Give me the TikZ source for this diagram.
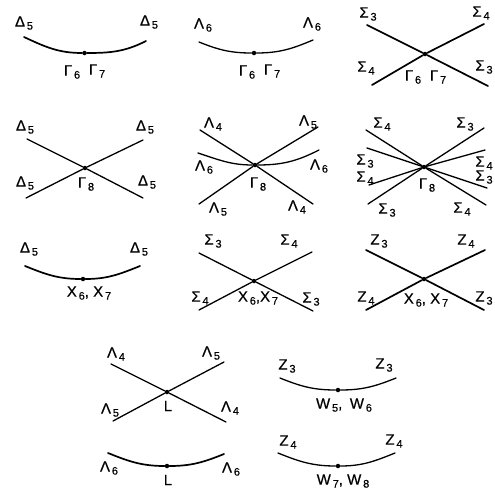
\documentclass[tikz,border=0pt]{standalone}
\usepackage{fontspec}
\setmainfont[FakeBold=0.5]{Liberation Sans}
\usetikzlibrary{positioning}
\newcommand{\bd}[2]{#1\raisebox{-3pt}{\fontsize{11}{12}\selectfont\,#2}}

\begin{document}
\begin{tikzpicture}[x=1pt,y=-1pt,font=\fontsize{15}{17}\selectfont,
  lab/.style={inner sep=0pt,anchor=center},
  pt/.style={circle,fill=black,inner sep=0pt,minimum size=4.5pt},
  ln/.style={line width=1.3pt,line cap=round},
  lnb/.style={line width=1.7pt,line cap=round}]
\useasboundingbox (0,0) rectangle (495,491);

% first row
\node[pt] (ga) at (84.5,53) {};
\coordinate (ga1) at (24,37);
\coordinate (ga2) at (146,41);
\draw[lnb] (ga1) to[out=-25,in=180] (ga) to[out=0,in=207] (ga2);
\node[lab] (ga3) at (24,23) {\bd{Δ}{5}};
\node[lab] (ga4) at (149,22) {\bd{Δ}{5}};
\node[lab] (ga5) at (72,72) {\bd{Γ}{6}};
\node[lab] (ga6) at (97,71) {\bd{Γ}{7}};

\node[pt] (gb) at (254,53) {};
\coordinate (gb1) at (199,42);
\coordinate (gb2) at (313,40);
\draw[ln] (gb1) to[out=-22,in=180] (gb) to[out=0,in=203] (gb2);
\node[lab] (gb3) at (203,25) {\bd{Λ}{6}};
\node[lab] (gb4) at (312,24) {\bd{Λ}{6}};
\node[lab] (gb5) at (247,72) {\bd{Γ}{6}};
\node[lab] (gb6) at (272,71) {\bd{Γ}{7}};

\node[pt] (gc) at (425,54) {};
\coordinate (gc1) at (367,25);
\coordinate (gc2) at (488,86);
\coordinate (gc3) at (372,85);
\coordinate (gc4) at (484,24);
\draw[lnb] (gc1) -- (gc) -- (gc2);
\draw[lnb] (gc3) -- (gc) -- (gc4);
\node[lab] (gc5) at (368,14) {\bd{Σ}{3}};
\node[lab] (gc6) at (481,13) {\bd{Σ}{4}};
\node[lab] (gc7) at (366,68) {\bd{Σ}{4}};
\node[lab] (gc8) at (484,67) {\bd{Σ}{3}};
\node[lab] (gc9) at (413,77) {\bd{Γ}{6}};
\node[lab] (gc10) at (438,77) {\bd{Γ}{7}};

% second row
\node[pt] (gd) at (85,168) {};
\coordinate (gd1) at (27,139);
\coordinate (gd2) at (143,198);
\coordinate (gd3) at (26,198);
\coordinate (gd4) at (143,140);
\draw[ln] (gd1) -- (gd) -- (gd2);
\draw[ln] (gd3) -- (gd) -- (gd4);
\node[lab] (gd5) at (25,127) {\bd{Δ}{5}};
\node[lab] (gd6) at (145,127) {\bd{Δ}{5}};
\node[lab] (gd7) at (25,183) {\bd{Δ}{5}};
\node[lab] (gd8) at (147,182) {\bd{Δ}{5}};
\node[lab] (gd9) at (86,184) {\bd{Γ}{8}};

\node[pt] (ge) at (255,165) {};
\coordinate (ge1) at (200,130);
\coordinate (ge2) at (313,204);
\coordinate (ge3) at (199,204);
\coordinate (ge4) at (318,127);
\coordinate (ge5) at (198,153);
\coordinate (ge6) at (319,150);
\draw[ln] (ge1) -- (ge) -- (ge2);
\draw[ln] (ge3) -- (ge) -- (ge4);
\draw[ln] (ge5) to[out=-18,in=180] (ge) to[out=0,in=207] (ge6);
\node[lab] (ge7) at (213,124) {\bd{Λ}{4}};
\node[lab] (ge8) at (308,122) {\bd{Λ}{5}};
\node[lab] (ge9) at (204,167) {\bd{Λ}{6}};
\node[lab] (ge10) at (319,166) {\bd{Λ}{6}};
\node[lab] (ge11) at (218,209) {\bd{Λ}{5}};
\node[lab] (ge12) at (297,207) {\bd{Λ}{4}};
\node[lab] (ge13) at (258,184) {\bd{Γ}{8}};

\node[pt] (gf) at (424,167) {};
\coordinate (gf1) at (366,130);
\coordinate (gf2) at (486,205);
\coordinate (gf3) at (368,204);
\coordinate (gf4) at (484,128);
\coordinate (gf5) at (367,148);
\coordinate (gf6) at (487,188);
\coordinate (gf7) at (369,185);
\coordinate (gf8) at (485,150);
\draw[ln] (gf1) -- (gf) -- (gf2);
\draw[ln] (gf3) -- (gf) -- (gf4);
\draw[ln] (gf5) -- (gf) -- (gf6);
\draw[ln] (gf7) -- (gf) -- (gf8);
\node[lab] (gf9) at (382,124) {\bd{Σ}{4}};
\node[lab] (gf10) at (465,124) {\bd{Σ}{3}};
\node[lab] (gf11) at (365,161) {\bd{Σ}{3}};
\node[lab] (gf12) at (365,178) {\bd{Σ}{4}};
\node[lab] (gf13) at (484,163) {\bd{Σ}{4}};
\node[lab] (gf14) at (484,177) {\bd{Σ}{3}};
\node[lab] (gf15) at (387,210) {\bd{Σ}{3}};
\node[lab] (gf16) at (462,209) {\bd{Σ}{4}};
\node[lab] (gf17) at (427,185) {\bd{Γ}{8}};

% third row
\node[pt] (xa) at (83,279) {};
\coordinate (xa1) at (25,266);
\coordinate (xa2) at (140,266);
\draw[lnb] (xa1) to[out=-22,in=180] (xa) to[out=0,in=202] (xa2);
\node[lab] (xa3) at (29,249) {\bd{Δ}{5}};
\node[lab] (xa4) at (139,249) {\bd{Δ}{5}};
\node[lab] (xa5) at (89,293) {\bd{X}{6}, \bd{X}{7}};

\node[pt] (xb) at (254,281) {};
\coordinate (xb1) at (199,253);
\coordinate (xb2) at (313,311);
\coordinate (xb3) at (199,310);
\coordinate (xb4) at (312,252);
\draw[ln] (xb1) -- (xb) -- (xb2);
\draw[ln] (xb3) -- (xb) -- (xb4);
\node[lab] (xb5) at (213,241) {\bd{Σ}{3}};
\node[lab] (xb6) at (289,241) {\bd{Σ}{4}};
\node[lab] (xb7) at (200,298) {\bd{Σ}{4}};
\node[lab] (xb8) at (311,299) {\bd{Σ}{3}};
\node[lab] (xb9) at (258,298) {\bd{X}{6},\bd{X}{7}};

\node[pt] (xc) at (424,279) {};
\coordinate (xc1) at (366,250);
\coordinate (xc2) at (484,310);
\coordinate (xc3) at (366,310);
\coordinate (xc4) at (485,250);
\draw[lnb] (xc1) -- (xc) -- (xc2);
\draw[lnb] (xc3) -- (xc) -- (xc4);
\node[lab] (xc5) at (379,241) {\bd{Z}{3}};
\node[lab] (xc6) at (466,241) {\bd{Z}{4}};
\node[lab] (xc7) at (366,298) {\bd{Z}{4}};
\node[lab] (xc8) at (484,298) {\bd{Z}{3}};
\node[lab] (xc9) at (426,300) {\bd{X}{6}, \bd{X}{7}};

% L and W points
\node[pt] (la) at (167,392) {};
\coordinate (la1) at (111,364);
\coordinate (la2) at (226,422);
\coordinate (la3) at (113,421);
\coordinate (la4) at (224,362);
\draw[ln] (la1) -- (la) -- (la2);
\draw[ln] (la3) -- (la) -- (la4);
\node[lab] (la5) at (116,354) {\bd{Λ}{4}};
\node[lab] (la6) at (211,353) {\bd{Λ}{5}};
\node[lab] (la7) at (110,410) {\bd{Λ}{5}};
\node[lab] (la8) at (230,408) {\bd{Λ}{4}};
\node[lab] (la9) at (168,406) {L};

\node[pt] (lb) at (167,466) {};
\coordinate (lb1) at (108,453);
\coordinate (lb2) at (224,454);
\draw[lnb] (lb1) to[out=-22,in=180] (lb) to[out=0,in=202] (lb2);
\node[lab] (lb3) at (109,468) {\bd{Λ}{6}};
\node[lab] (lb4) at (231,469) {\bd{Λ}{6}};
\node[lab] (lb5) at (168,480) {L};

\node[pt] (wa) at (338,390) {};
\coordinate (wa1) at (280,378);
\coordinate (wa2) at (396,378);
\draw[ln] (wa1) to[out=-22,in=180] (wa) to[out=0,in=202] (wa2);
\node[lab] (wa3) at (287,366) {\bd{Z}{3}};
\node[lab] (wa4) at (384,365) {\bd{Z}{3}};
\node[lab] (wa5) at (344,405) {\bd{W}{5},\enspace\bd{W}{6}};

\node[pt] (wb) at (338,466) {};
\coordinate (wb1) at (278,453);
\coordinate (wb2) at (395,453);
\draw[ln] (wb1) to[out=-22,in=180] (wb) to[out=0,in=202] (wb2);
\node[lab] (wb3) at (288,442) {\bd{Z}{4}};
\node[lab] (wb4) at (394,441) {\bd{Z}{4}};
\node[lab] (wb5) at (343,481) {\bd{W}{7}, \bd{W}{8}};

\end{tikzpicture}
\end{document}
